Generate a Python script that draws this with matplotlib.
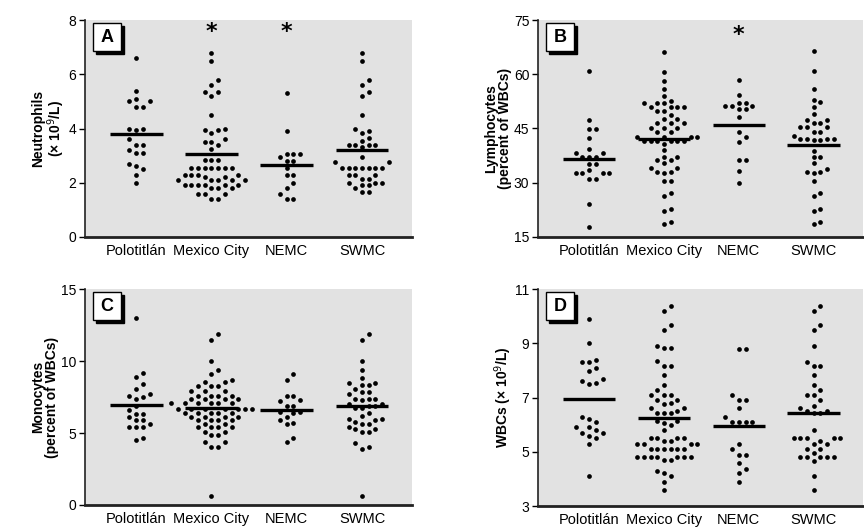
import numpy as np
import matplotlib
matplotlib.use("Agg")
import matplotlib.pyplot as plt
from matplotlib.patches import Rectangle

plt.rcParams['font.family'] = ['Liberation Sans Narrow', 'Liberation Sans', 'DejaVu Sans']

groups = ["Polotitlán", "Mexico City", "NEMC", "SWMC"]

# panel A: neutrophils (x 10^9/L)
A_polo = [6.6, 5.4, 5.1, 5.0, 5.0, 4.8, 4.8, 4.0, 4.0, 3.95, 3.6, 3.4, 3.4, 3.2, 3.1, 3.1,
          2.7, 2.6, 2.5, 2.3, 2.0]
A_mc = [6.8, 6.5, 5.8, 5.6, 5.35, 5.35, 5.2, 4.5, 4.0, 3.95, 3.95, 3.85, 3.6, 3.5, 3.5, 3.4,
        3.25, 2.85, 2.85, 2.85, 2.55, 2.55, 2.55, 2.55, 2.55, 2.55, 2.55, 2.3, 2.3, 2.3, 2.3,
        2.2, 2.2, 2.1, 2.1, 2.1, 2.1, 2.1, 1.9, 1.9, 1.9, 1.9, 1.9, 1.9, 1.8, 1.8, 1.8,
        1.6, 1.6, 1.6, 1.4, 1.4]
A_nemc = [5.3, 3.9, 3.05, 3.05, 3.05, 2.95, 2.8, 2.8, 2.55, 2.3, 2.3, 2.0, 1.8, 1.6, 1.4, 1.4]
A_swmc = [6.8, 6.5, 5.8, 5.6, 5.35, 5.2, 4.5, 4.0, 3.9, 3.85, 3.65, 3.55, 3.4, 3.4, 3.4, 3.4,
          3.3, 2.95, 2.75, 2.75, 2.55, 2.55, 2.55, 2.55, 2.55, 2.55, 2.55, 2.3, 2.3, 2.3,
          2.15, 2.15, 2.0, 2.0, 2.0, 1.9, 1.9, 1.8, 1.65, 1.65]
A_mean = [3.81, 3.05, 2.64, 3.22]

# panel B: lymphocytes (% of WBCs)
B_polo = [60.9, 47.3, 44.7, 44.7, 42.2, 39.2, 38.3, 38.3, 37.1, 37.1, 37.1, 35.1, 35.1, 33.4,
          32.5, 32.5, 32.5, 32.5, 31.1, 31.1, 24.0, 17.8]
B_mc = [66.2, 60.7, 58.2, 55.8, 54.0, 52.7, 52.1, 52.1, 52.1, 50.8, 50.8, 50.8, 50.8, 49.9,
        49.9, 48.7, 47.5, 47.5, 46.6, 46.6, 46.6, 45.0, 45.0, 45.0, 44.1, 44.1, 42.7, 42.7,
        42.7, 42.7, 41.6, 41.6, 41.6, 41.6, 41.6, 41.6, 40.7, 39.0, 37.0, 37.0, 36.2, 36.2,
        35.3, 33.9, 33.9, 33.0, 33.0, 32.5, 30.5, 30.5, 27.0, 26.2, 22.8, 22.1, 19.1, 18.5]
B_nemc = [58.3, 54.1, 52.1, 52.1, 51.2, 51.2, 51.2, 50.3, 50.3, 48.2, 44.0, 42.5, 41.3, 36.2,
          36.2, 33.3, 30.0]
B_swmc = [66.4, 60.9, 55.8, 52.8, 52.3, 51.0, 48.9, 47.3, 47.3, 46.6, 46.6, 45.3, 45.3, 45.3,
          43.9, 43.9, 42.9, 42.0, 42.0, 42.0, 42.0, 41.8, 41.8, 38.8, 37.0, 37.0, 35.3, 33.7,
          33.0, 33.0, 32.5, 30.5, 27.0, 26.2, 22.8, 22.1, 19.1, 18.5]
B_mean = [36.6, 42.1, 45.9, 40.4]

# panel C: monocytes (% of WBCs)
C_polo = [13.0, 9.2, 8.9, 8.4, 8.1, 7.7, 7.6, 7.5, 7.4, 6.9, 6.6, 6.35, 6.35, 6.1, 5.9, 5.9,
          5.6, 5.45, 5.4, 5.4, 4.65, 4.5]
C_mc = [11.9, 11.5, 10.0, 9.4, 9.1, 8.7, 8.55, 8.55, 8.3, 8.3, 8.3, 7.9, 7.9, 7.9,
        7.6, 7.6, 7.6, 7.6, 7.4, 7.4, 7.4, 7.4, 7.1, 7.1, 7.1, 7.1, 7.1, 7.1,
        6.7, 6.7, 6.7, 6.7, 6.7, 6.7, 6.7, 6.4, 6.4, 6.4, 6.4, 6.4, 6.1, 6.1, 6.1, 6.1,
        5.9, 5.9, 5.9, 5.9, 5.65, 5.65, 5.4, 5.4, 5.4, 5.4, 5.1, 5.1, 4.85, 4.85,
        4.4, 4.4, 4.0, 4.0, 0.6]
C_nemc = [9.1, 8.7, 7.6, 7.6, 7.3, 7.2, 6.9, 6.9, 6.5, 6.5, 6.4, 6.1, 5.9, 5.7, 5.6, 4.65, 4.4]
C_swmc = [11.9, 11.5, 10.0, 9.4, 8.8, 8.5, 8.5, 8.35, 8.35, 8.1, 7.85, 7.85, 7.7, 7.4, 7.4, 7.4,
          7.3, 7.05, 7.05, 6.9, 6.9, 6.75, 6.75, 6.4, 6.2, 6.0, 6.0, 5.9, 5.8, 5.6, 5.6, 5.4,
          5.3, 5.3, 5.1, 5.1, 4.3, 4.0, 3.9, 0.6]
C_mean = [6.97, 6.76, 6.62, 6.85]

# panel D: WBCs (x 10^9/L)
D_polo = [9.9, 9.0, 8.4, 8.3, 8.3, 8.1, 8.0, 7.7, 7.6, 7.55, 7.5, 6.3, 6.2, 6.1, 5.9, 5.9, 5.8,
          5.7, 5.7, 5.6, 5.5, 5.3, 4.1]
D_mc = [10.4, 10.2, 9.7, 9.5, 8.9, 8.85, 8.85, 8.35, 8.15, 8.15, 7.85, 7.45, 7.3, 7.1, 7.1, 7.1,
        6.9, 6.9, 6.8, 6.75, 6.6, 6.6, 6.5, 6.45, 6.45, 6.45, 6.15, 6.15, 6.05, 6.0, 5.8,
        5.5, 5.5, 5.5, 5.5, 5.4, 5.4, 5.3, 5.3, 5.3, 5.3, 5.1, 5.1, 5.1, 5.1, 5.1, 5.1,
        4.8, 4.8, 4.8, 4.8, 4.8, 4.8, 4.8, 4.7, 4.7, 4.3, 4.2, 4.1, 3.9, 3.6]
D_nemc = [8.8, 8.8, 7.1, 6.9, 6.9, 6.6, 6.3, 6.1, 6.1, 6.1, 6.1, 5.3, 5.1, 4.9, 4.9, 4.6, 4.35,
          4.2, 3.9]
D_swmc = [10.4, 10.2, 9.7, 9.5, 8.9, 8.3, 8.15, 8.15, 7.85, 7.45, 7.3, 7.1, 7.1, 6.9, 6.7, 6.6,
          6.5, 6.5, 6.45, 6.45, 5.8, 5.5, 5.5, 5.5, 5.5, 5.5, 5.4, 5.3, 5.3, 5.1, 5.1, 4.95,
          4.8, 4.8, 4.8, 4.8, 4.8, 4.65, 4.1, 3.6]
D_mean = [6.95, 6.26, 5.95, 6.42]

panels = [
    ("A", [A_polo, A_mc, A_nemc, A_swmc], A_mean, [0, 2, 4, 6, 8],
     "Neutrophils\n(× 10$^9$/L)", [(1, 7.55), (2, 7.55)]),
    ("B", [B_polo, B_mc, B_nemc, B_swmc], B_mean, [15, 30, 45, 60, 75],
     "Lymphocytes\n(percent of WBCs)", [(2, 70.8)]),
    ("C", [C_polo, C_mc, C_nemc, C_swmc], C_mean, [0, 5, 10, 15],
     "Monocytes\n(percent of WBCs)", []),
    ("D", [D_polo, D_mc, D_nemc, D_swmc], D_mean, [3, 5, 7, 9, 11],
     "WBCs (× 10$^9$/L)", []),
]

positions = [
    [85 / 864, 1 - 237 / 531, 326.7 / 864, 217 / 531],
    [538.3 / 864, 1 - 236.7 / 531, 324.7 / 864, 216.7 / 531],
    [85 / 864, 1 - 505 / 531, 326.7 / 864, 215.7 / 531],
    [538.3 / 864, 1 - 506 / 531, 324.7 / 864, 216.7 / 531],
]


def swarm(ax, vals, center, step_px=6.7, gap_px=6.0):
    vals = np.asarray(vals, dtype=float)
    ys = ax.transData.transform(np.column_stack([np.full(len(vals), center), vals]))[:, 1]
    cols = {}
    ks = np.zeros(len(vals))
    for i in np.argsort(vals):
        for k in [0, 1, -1, 2, -2, 3, -3, 4, -4, 5, -5, 6, -6, 7, -7]:
            if all(abs(ys[i] - y) >= gap_px for y in cols.get(k, [])):
                break
        cols.setdefault(k, []).append(ys[i])
        ks[i] = k
    x0 = ax.transData.transform((center, 0))[0]
    x1 = ax.transData.transform((center + 1, 0))[0]
    return center + ks * step_px / (x1 - x0)


fig = plt.figure(figsize=(8.64, 5.31), dpi=100)

for (letter, data, means, yticks, ylab, stars), pos in zip(panels, positions):
    ax = fig.add_axes(pos)
    ax.set_facecolor('#e2e2e2')
    ax.set_xlim(-0.68, 3.66)
    ax.set_ylim(yticks[0], yticks[-1])
    for i, vals in enumerate(data):
        xs = swarm(ax, vals, i)
        ax.plot(xs, vals, 'o', color='black', markersize=3.4, markeredgewidth=0, zorder=3)
        ax.plot([i - 0.35, i + 0.35], [means[i], means[i]], color='black', lw=2.4,
                solid_capstyle='butt', zorder=4)
    for gx, gy in stars:
        ax.text(gx, gy, "*", ha='center', va='center', fontsize=16, fontweight='bold',
                family='DejaVu Sans')
    ax.set_xticks(range(4))
    ax.set_xticklabels(groups, fontsize=10.5)
    ax.set_yticks(yticks)
    ax.tick_params(axis='x', length=0, pad=5)
    ax.tick_params(axis='y', length=4, width=1, labelsize=10, direction='out', pad=2.5)
    ax.set_ylabel(ylab, fontsize=10, fontweight='bold', linespacing=1.0, labelpad=1)
    for s in ['top', 'right']:
        ax.spines[s].set_visible(False)
    ax.spines['left'].set_linewidth(1.2)
    ax.spines['bottom'].set_linewidth(2.0)
    ax.spines['left'].set_color('#222222')
    ax.spines['bottom'].set_color('#222222')

    # panel letter box with drop shadow
    w = 28 / (pos[2] * 864)
    h = 28 / (pos[3] * 531)
    bx = 8 / (pos[2] * 864)
    by = 1 - 3 / (pos[3] * 531) - h
    dx = 3 / (pos[2] * 864)
    dy = 3 / (pos[3] * 531)
    ax.add_patch(Rectangle((bx + dx, by - dy), w, h, transform=ax.transAxes,
                           facecolor='black', edgecolor='black', zorder=5, clip_on=False))
    ax.add_patch(Rectangle((bx, by), w, h, transform=ax.transAxes,
                           facecolor='white', edgecolor='black', lw=1.0, zorder=6,
                           clip_on=False))
    ax.text(bx + w / 2, by + h / 2, letter, transform=ax.transAxes, ha='center',
            va='center', fontsize=13, fontweight='bold', zorder=7)

fig.savefig("out.png", dpi=100)
